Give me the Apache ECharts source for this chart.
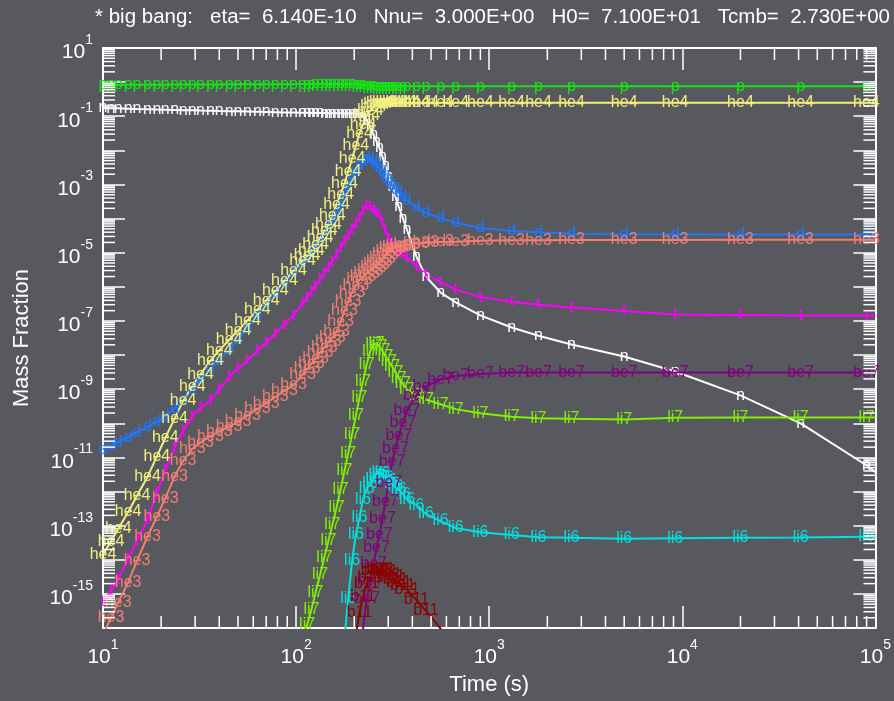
<!DOCTYPE html>
<html><head><meta charset="utf-8">
<script src="https://cdn.jsdelivr.net/npm/echarts@6/dist/echarts.min.js"></script>
<style>html,body{margin:0;padding:0;background:#57595e;}#c{width:894px;height:701px;}</style>
</head><body><div id="c"></div>
<script>
function nulls(k) { return new Array(k).fill(null); }

// time steps (s)
const times = [10, 11, 12, 13.5, 15, 17, 19, 21, 23.5, 26, 29, 32, 36, 40, 45, 50, 56, 63, 70, 78, 87, 97, 108,
  114, 120, 126, 133, 140, 147, 154, 162, 170, 178, 186, 195, 204, 213, 222, 232, 242, 252, 261, 270, 280, 290, 302, 314, 327, 340, 357, 375,
  420, 470, 560, 671, 900, 1307, 1800, 2667, 5000, 9180, 20000, 41000, 89800, 100000];

const nVals = [0.175,0.172,0.170,0.167,0.164,0.161,0.158,0.156,0.153,0.151,0.149,0.147,0.145,0.143,0.141,0.139,0.137,0.135,0.133,0.131,0.129,0.128,0.126,
  0.1255,0.125,0.1245,0.124,0.1235,0.123,0.1225,0.122,0.1215,0.121,0.1205,0.120,0.119,0.117,0.096,0.078,0.049,0.0285,0.0184,0.0118,6.5e-3,3.5e-3,1.72e-3,8.6e-4,4.4e-4,2.2e-4,1.03e-4,4.7e-5,
  7.7e-6,2.0e-6,6.8e-7,3.5e-7,1.45e-7,6.4e-8,3.7e-8,2.05e-8,9.1e-9,3.3e-9,6.6e-10,1.0e-10,5.9e-12,3.7e-12];
const pVals = [0.825,0.828,0.830,0.833,0.836,0.839,0.842,0.844,0.847,0.849,0.851,0.853,0.855,0.857,0.859,0.861,0.863,0.865,0.867,0.869,0.871,0.872,0.874,
  0.8745,0.875,0.8755,0.876,0.8765,0.877,0.8775,0.878,0.8785,0.879,0.879,0.879,0.865,0.847,0.83,0.815,0.795,0.78,0.762,0.75,0.752,0.752,0.752,0.752,0.752,0.752,0.752,0.752,
  0.752,0.752,0.752,0.752,0.752,0.752,0.752,0.752,0.752,0.752,0.752,0.752,0.752,0.752];
const dVals = [1.73e-11,2.24e-11,2.8e-11,3.9e-11,5.4e-11,7.8e-11,1.1e-10,1.6e-10,2.75e-10,4.6e-10,1.0e-9,1.95e-9,3.9e-9,7.1e-9,1.42e-8,2.9e-8,6.4e-8,1.43e-7,2.97e-7,6.3e-7,1.3e-6,2.7e-6,5.2e-6,
  7.2e-6,9.9e-6,1.43e-5,2.15e-5,3.5e-5,5.5e-5,8.5e-5,1.39e-4,2.55e-4,4.8e-4,8.6e-4,1.55e-3,2.35e-3,3.6e-3,4.6e-3,5.7e-3,5.85e-3,4.6e-3,3.8e-3,3.0e-3,2.2e-3,1.6e-3,1.18e-3,9.1e-4,7.2e-4,5.8e-4,4.4e-4,3.4e-4,
  2.1e-4,1.46e-4,1.05e-4,7.6e-5,5.3e-5,4.3e-5,4.0e-5,3.6e-5,3.5e-5,3.45e-5,3.4e-5,3.4e-5,3.4e-5,3.4e-5];
const he4Vals = [1.4e-14,3.5e-14,8.1e-14,2.5e-13,7.5e-13,2.7e-12,1.07e-11,3.7e-11,1.4e-10,4.6e-10,1.23e-9,2.75e-9,6.9e-9,1.37e-8,2.8e-8,5.2e-8,1.03e-7,2.1e-7,4.0e-7,7.6e-7,1.48e-6,3.0e-6,5.9e-6,
  8.3e-6,1.15e-5,1.73e-5,2.7e-5,4.3e-5,6.6e-5,1.26e-4,2.6e-4,5.2e-4,1.05e-3,2.4e-3,5.8e-3,0.0136,0.032,0.057,0.107,0.143,0.19,0.215,0.24,0.243,0.246,0.247,0.247,0.247,0.247,0.247,0.247,
  0.247,0.247,0.247,0.247,0.247,0.247,0.247,0.247,0.247,0.247,0.247,0.247,0.247,0.247];
const tVals = [5.8e-16,1.23e-15,2.7e-15,1.05e-14,3.6e-14,1.47e-13,8.8e-13,4.1e-12,2.0e-11,6.1e-11,1.62e-10,2.8e-10,4.7e-10,9.8e-10,2.3e-9,4.0e-9,7.1e-9,1.31e-8,2.3e-8,4.3e-8,7.9e-8,1.46e-7,3.2e-7,
  4.9e-7,7.3e-7,1.05e-6,1.65e-6,2.5e-6,3.6e-6,5.6e-6,8.9e-6,1.39e-5,2.1e-5,3.2e-5,4.9e-5,7.3e-5,1.1e-4,1.7e-4,2.45e-4,2.2e-4,1.76e-4,1.49e-4,1.26e-4,7.6e-5,4.4e-5,2.6e-5,1.85e-5,1.36e-5,1.02e-5,8.8e-6,7.4e-6,
  4.0e-6,2.36e-6,1.37e-6,8.3e-7,5.0e-7,3.65e-7,3.0e-7,2.47e-7,1.95e-7,1.54e-7,1.5e-7,1.45e-7,1.45e-7,1.45e-7];
const he3Vals = [6.3e-17,2.0e-16,5.6e-16,2.2e-15,9.4e-15,4.8e-14,1.82e-13,6.3e-13,2.8e-12,8.0e-12,1.79e-11,2.76e-11,4.2e-11,5.7e-11,8.0e-11,1.09e-10,1.69e-10,2.65e-10,3.9e-10,5.9e-10,8.9e-10,1.32e-9,2.7e-9,
  3.9e-9,5.6e-9,8.0e-9,1.17e-8,1.67e-8,2.4e-8,3.3e-8,4.9e-8,9.6e-8,1.97e-7,3.6e-7,7.0e-7,1.09e-6,1.63e-6,2.0e-6,2.5e-6,3.05e-6,3.7e-6,4.5e-6,5.5e-6,6.9e-6,8.8e-6,1.08e-5,1.32e-5,1.44e-5,1.56e-5,1.64e-5,1.72e-5,
  1.85e-5,1.97e-5,2.05e-5,2.1e-5,2.25e-5,2.3e-5,2.3e-5,2.35e-5,2.35e-5,2.35e-5,2.4e-5,2.4e-5,2.4e-5,2.4e-5];
const li7Vals = nulls(22).concat([4.8e-17,
  1.23e-16,3.5e-16,1.06e-15,3.6e-15,1.16e-14,3.6e-14,1.05e-13,3.4e-13,1.17e-12,4.0e-12,1.32e-11,4.8e-11,1.66e-10,5.8e-10,1.69e-9,5.3e-9,1.28e-8,2.05e-8,2.2e-8,1.78e-8,1.32e-8,9.1e-9,6.5e-9,4.6e-9,3.1e-9,2.1e-9,1.43e-9,9.5e-10,
  6.4e-10,5.0e-10,3.6e-10,2.6e-10,1.96e-10,1.55e-10,1.4e-10,1.35e-10,1.3e-10,1.45e-10,1.47e-10,1.47e-10,1.47e-10,1.47e-10]);
const li6Vals = nulls(30).concat([1e-17,2e-17,4.8e-17,7.1e-16,9.3e-15,5.6e-14,1.73e-13,6.0e-13,1.23e-12,1.7e-12,2.3e-12,3.0e-12,3.7e-12,3.3e-12,2.6e-12,2.15e-12,1.75e-12,1.43e-12,1.13e-12,8.4e-13,6.0e-13,
  4.0e-13,2.2e-13,1.36e-13,8.5e-14,6.4e-14,5.3e-14,4.6e-14,4.4e-14,4.1e-14,4.3e-14,4.4e-14,4.5e-14,4.7e-14,4.7e-14]);
const be7Vals = nulls(36).concat([1e-17,9.3e-17,7.1e-16,2.4e-15,7.5e-15,2.2e-14,5.5e-14,1.6e-13,5.0e-13,1.8e-12,7.7e-12,1.85e-11,4.4e-11,1.03e-10,2.4e-10,
  6.6e-10,1.2e-9,1.95e-9,2.45e-9,2.8e-9,3.1e-9,3.1e-9,3.1e-9,3.1e-9,3.1e-9,3.1e-9,3.1e-9,3.1e-9,3.1e-9]);
const b11Vals = nulls(34).concat([1e-17,6e-17,2.9e-16,8.1e-16,1.94e-15,3.1e-15,4.7e-15,5.2e-15,5.3e-15,5.1e-15,4.4e-15,3.8e-15,3.3e-15,2.7e-15,2.1e-15,1.7e-15,1.3e-15,
  6.6e-16,3.2e-16,9.6e-17,2.5e-17]).concat(nulls(10));

const titleText = '* big bang:   eta=  6.140E-10   Nnu=  3.000E+00   H0=  7.100E+01   Tcmb=  2.730E+00';

const FONT = 'Liberation Sans, Arial, sans-serif';
const chart = echarts.init(document.getElementById('c'), null, {renderer: 'canvas'});

function mkSeries(name, vals, color) {
  const data = [];
  const last = times.length - 1;
  times.forEach((t, i) => {
    if (vals[i] == null) return;
    if (i === last) data.push({value: [t, vals[i]], label: {show: false}});
    else data.push([t, vals[i]]);
  });
  return {
    type: 'line', name: name, data: data, xAxisIndex: 0, yAxisIndex: 0,
    symbol: 'circle', symbolSize: 0.5, showSymbol: true, showAllSymbol: true,
    itemStyle: {color: color}, lineStyle: {color: color, width: 2},
    label: {show: true, position: 'inside', formatter: name, color: color, fontSize: 16, fontFamily: FONT},
    silent: true, animation: false, clip: true, emphasis: {disabled: true}
  };
}

const supRich = {
  b: {fontSize: 21, lineHeight: 30, verticalAlign: 'bottom', color: '#fff', fontFamily: FONT},
  s: {fontSize: 14, lineHeight: 16, verticalAlign: 'top', color: '#fff', fontFamily: FONT}
};
function powLabel(v) {
  const e = Math.round(Math.log10(v));
  return '{b|10}{s|' + e + '}';
}

const tickStyle = {color: '#fff', width: 1.5};
function minorTicks(params, api) {
  const ch = [];
  const L = 12;
  const x0 = api.coord([10, 1e-16]);
  const x1 = api.coord([1e5, 10]);
  const left = x0[0], bottom = x0[1], right = x1[0], top = x1[1];
  const st = {stroke: '#fff', lineWidth: 1.5};
  for (let e = 1; e < 5; e++) {
    for (let m = 2; m <= 9; m++) {
      const px = api.coord([m * Math.pow(10, e), 1])[0];
      ch.push({type: 'line', shape: {x1: px, y1: bottom, x2: px, y2: bottom - L}, style: st});
      ch.push({type: 'line', shape: {x1: px, y1: top, x2: px, y2: top + L}, style: st});
    }
  }
  for (let e = -16; e < 1; e++) {
    for (let m = 2; m <= 9; m++) {
      const py = api.coord([100, m * Math.pow(10, e)])[1];
      ch.push({type: 'line', shape: {x1: left, y1: py, x2: left + L, y2: py}, style: st});
      ch.push({type: 'line', shape: {x1: right, y1: py, x2: right - L, y2: py}, style: st});
    }
  }
  return {type: 'group', children: ch};
}

const baseX = {type: 'log', logBase: 10, min: 10, max: 1e5, interval: 1,
  axisLine: {show: true, lineStyle: {color: '#fff', width: 2}},
  axisTick: {show: true, inside: true, length: 22, lineStyle: tickStyle},
  splitLine: {show: false}, minorTick: {show: false}};
const baseY = {type: 'log', logBase: 10, min: 1e-16, max: 10, interval: 1,
  axisLine: {show: true, lineStyle: {color: '#fff', width: 2}},
  axisTick: {show: true, inside: true, length: 22, lineStyle: tickStyle},
  splitLine: {show: false}, minorTick: {show: false}};

const option = {
  backgroundColor: '#57595e',
  animation: false,
  title: {text: titleText, left: 90, top: 2, textStyle: {color: '#fff', fontSize: 20.5, fontWeight: 'normal', fontFamily: FONT}},
  grid: {left: 103, right: 16, top: 48, bottom: 72, containLabel: false},
  xAxis: [
    Object.assign({}, baseX, {position: 'bottom',
      axisLabel: {show: true, margin: 10, formatter: powLabel, rich: supRich},
      name: 'Time (s)', nameLocation: 'middle', nameGap: 46,
      nameTextStyle: {color: '#fff', fontSize: 22, fontFamily: FONT}}),
    Object.assign({}, baseX, {position: 'top', axisLabel: {show: false}})
  ],
  yAxis: [
    Object.assign({}, baseY, {position: 'left',
      axisLabel: {show: true, interval: 0, margin: 10, formatter: function (v) {
        const e = Math.round(Math.log10(v));
        return (Math.abs(e) % 2 === 1) ? powLabel(v) : '';
      }, rich: supRich},
      name: 'Mass Fraction', nameLocation: 'middle', nameGap: 70,
      nameTextStyle: {color: '#fff', fontSize: 22, fontFamily: FONT}}),
    Object.assign({}, baseY, {position: 'right', axisLabel: {show: false}})
  ],
  series: [
    mkSeries('n', nVals, '#ffffff'),
    mkSeries('p', pVals, '#14e614'),
    mkSeries('d', dVals, '#1e78ff'),
    mkSeries('t', tVals, '#ff00ff'),
    mkSeries('he4', he4Vals, '#f2f07e'),
    mkSeries('he3', he3Vals, '#f47e72'),
    mkSeries('li7', li7Vals, '#80f000'),
    mkSeries('li6', li6Vals, '#00e0e0'),
    mkSeries('be7', be7Vals, '#800080'),
    mkSeries('b11', b11Vals, '#8b0000'),
    {type: 'custom', xAxisIndex: 0, yAxisIndex: 0, data: [[100, 1]], renderItem: minorTicks, silent: true, z: 10, clip: false, animation: false}
  ]
};
chart.setOption(option);
</script></body></html>
